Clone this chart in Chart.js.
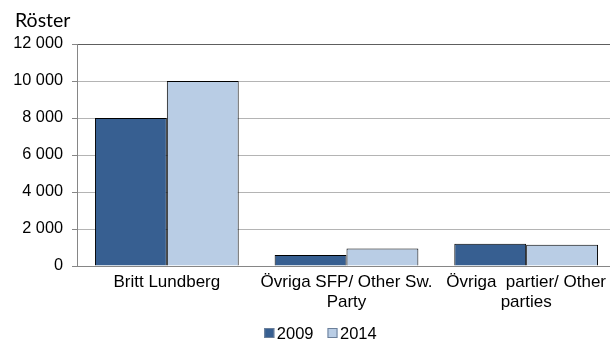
<!DOCTYPE html>
<html>
<head>
<meta charset="utf-8">
<script src="https://cdn.jsdelivr.net/npm/chart.js@4.4.1/dist/chart.umd.min.js"></script>
<style>
  html, body { margin:0; padding:0; background:#fff; overflow:hidden; width:610px; height:340px; }
  #wrap { width:616px; height:340px; }
</style>
</head>
<body>
<div id="wrap"><canvas id="votes"></canvas></div>
<script>
// Röster per kandidat / grupp, 2009 och 2014
const categories = [
    'Britt Lundberg',
    ['Övriga SFP/ Other Sw.', 'Party'],
    ['Övriga  partier/ Other', 'parties']
];
const years = ['2009', '2014'];
const votes2009 = [8000, 600, 1200];
const votes2014 = [10000, 940, 1150];
const yTicks = [0, 2000, 4000, 6000, 8000, 10000, 12000];

const DARK  = '#375f91';
const LIGHT = '#b9cde5';

const fmt = v => String(v).replace(/\B(?=(\d{3})+(?!\d))/g, ' ');

// Axis caption + legend drawn straight onto the canvas
const extras = {
    id: 'extras',
    afterDraw(chart) {
        const ctx = chart.ctx;
        ctx.save();
        ctx.fillStyle = '#000';
        ctx.textBaseline = 'alphabetic';
        ctx.font = '19.5px Lato';
        ctx.fillText('Röster', 15, 27);

        ctx.font = '16.5px "Liberation Sans", Arial';
        const items = chart.data.datasets.map(ds => ({
            label: ds.label, color: ds.backgroundColor, w: ctx.measureText(ds.label).width
        }));
        const box = 10, gap = 2.5, sep = 14;
        let total = items.reduce((s, it) => s + box + gap + it.w, 0) + sep * (items.length - 1);
        let x = 320.5 - total / 2;
        const base = 338.5;
        items.forEach(it => {
            ctx.fillStyle = it.color;
            ctx.fillRect(x, base - 10.5, box, box);
            ctx.strokeStyle = '#6b7f99';
            ctx.lineWidth = 1;
            ctx.strokeRect(x + 0.5, base - 10, box - 1, box - 1);
            ctx.fillStyle = '#000';
            ctx.fillText(it.label, x + box + gap, base);
            x += box + gap + it.w + sep;
        });
        ctx.restore();
    }
};

new Chart(document.getElementById('votes'), {
    type: 'bar',
    data: {
        labels: categories,
        datasets: [
            { label: years[0], data: votes2009, backgroundColor: DARK,  borderColor: '#000', borderWidth: 1 },
            { label: years[1], data: votes2014, backgroundColor: LIGHT, borderColor: '#000', borderWidth: 1 }
        ]
    },
    options: {
        responsive: true,
        maintainAspectRatio: false,
        animation: false,
        devicePixelRatio: 1,
        layout: { padding: { top: 44, right: 0, left: 0, bottom: 0 } },
        datasets: { bar: { categoryPercentage: 0.8, barPercentage: 1 } },
        plugins: {
            legend: { display: false },
            tooltip: { enabled: false }
        },
        scales: {
            x: {
                grid: { display: false, drawTicks: false },
                border: { color: '#868686', width: 1 },
                ticks: {
                    color: '#000',
                    padding: 7,
                    maxRotation: 0,
                    autoSkip: false,
                    font: { family: '"Liberation Sans", Arial', size: 17, lineHeight: 1.13 }
                },
                afterFit(scale) { scale.height = 74; }
            },
            y: {
                min: 0,
                max: 12000,
                afterBuildTicks(scale) { scale.ticks = yTicks.map(v => ({ value: v })); },
                grid: {
                    color: ctx => ctx.tick && ctx.tick.value === 12000 ? '#5e5e5e' : '#b4b4b4',
                    tickColor: '#868686',
                    tickLength: 5
                },
                border: { color: '#868686', width: 1 },
                ticks: {
                    color: '#000',
                    padding: 9,
                    callback: v => fmt(v),
                    font: { family: '"Liberation Sans", Arial', size: 16.3 }
                },
                afterFit(scale) { scale.width = 77; }
            }
        }
    },
    plugins: [extras]
});
</script>
</body>
</html>
